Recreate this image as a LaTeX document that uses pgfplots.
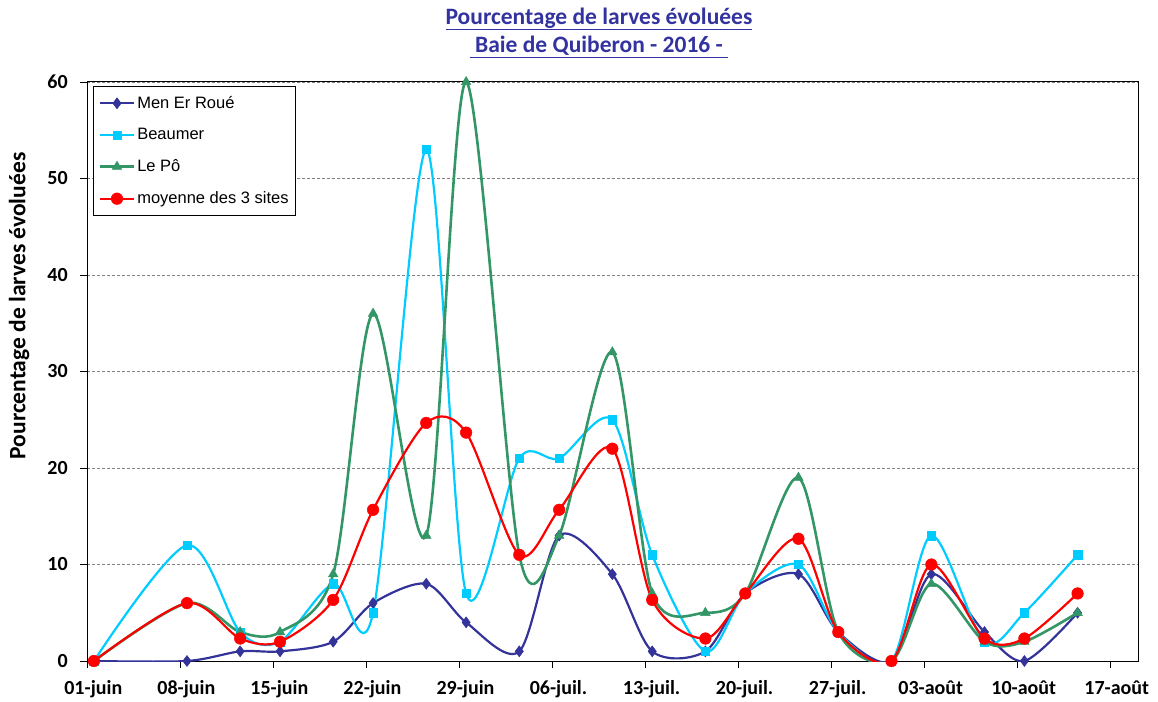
\documentclass[border=0pt]{standalone}
\usepackage{pgfplots}
\pgfplotsset{compat=1.18}
\usepackage{fontspec}
\setmainfont{Carlito}
\newfontfamily\legfont{Liberation Sans}
\definecolor{cMen}{RGB}{51,51,153}
\definecolor{cBea}{RGB}{0,204,255}
\definecolor{cPo}{RGB}{51,150,102}
\definecolor{cMoy}{RGB}{255,0,0}
\definecolor{cTitle}{RGB}{51,51,160}

\pgfplotstableread{
x   men  bea  po   moy
0   0    0    0    0
7   0    12   6    6
11  1    3    3    2.33
14  1    2    3    2
18  2    8    9    6.33
21  6    5    36   15.67
25  8    53   13   24.67
28  4    7    60   23.67
32  1    21   11   11
35  13   21   13   15.67
39  9    25   32   22
42  1    11   7    6.33
46  1    1    5    2.33
49  7    7    7    7
53  9    10   19   12.67
56  3    3    3    3
60  0    0    0    0
63  9    13   8    10
67  3    2    2    2.33
70  0    5    2    2.33
74  5    11   5    7
}\datatable

% underline set a few points below the baseline, as in the reference
\newcommand\ul[1]{{\setbox0\hbox{#1}\rlap{\rule[-5.5pt]{\wd0}{1.7pt}}\box0}}

\begin{document}
\begin{tikzpicture}
\begin{axis}[
  scale only axis,
  width=1050.7pt, height=579pt,
  at={(0pt,0pt)}, anchor=south west,
  xmin=-0.5, xmax=78.55, ymin=0, ymax=60,
  xtick={-0.5,6.5,13.5,20.5,27.5,34.5,41.5,48.5,55.5,62.5,69.5,76.5},
  xticklabels={01-juin,08-juin,15-juin,22-juin,29-juin,06-juil.,13-juil.,20-juil.,27-juil.,03-août,10-août,17-août},
  ytick={0,10,...,60},
  xtick pos=lower, ytick pos=left,
  tick align=outside,
  major tick length=7pt,
  tick style={black, line width=0.9pt},
  axis line style={black, line width=1pt},
  ymajorgrids,
  grid style={gray, line width=0.7pt, dash pattern=on 3pt off 2pt},
  /pgf/number format/assume math mode=true,
  ticklabel style={font=\bfseries\fontsize{20}{22}\selectfont, text=black},
  xticklabel style={xshift=6pt, yshift=-9pt},
  yticklabel style={xshift=-9pt},
  legend style={
    at={(0.0057,0.993)}, anchor=north west,
    draw=black, line width=0.8pt, fill=white,
    font=\legfont\fontsize{16.5}{19}\selectfont,
    row sep=14.5pt, inner xsep=5pt, inner ysep=8pt,
    cells={anchor=west},
  },
  legend cell align=left,
  legend image code/.code={
    \draw[#1] (0pt,0pt) -- (34pt,0pt);
    \draw[#1, line width=0pt] plot coordinates {(17pt,0pt)};
  },
]
\addplot[cMen, line width=2.2pt, smooth, tension=0.5, mark=diamond*, mark size=5.5pt, mark options={solid, line width=0.5pt}]
  table[x=x, y=men] {\datatable};
\addlegendentry{Men Er Roué}
\addplot[cBea, line width=2.2pt, smooth, tension=0.5, mark=square*, mark size=4.2pt, mark options={solid, line width=0.5pt}]
  table[x=x, y=bea] {\datatable};
\addlegendentry{Beaumer}
\addplot[cPo, line width=2.6pt, smooth, tension=0.5, mark=triangle*, mark size=5.5pt, mark options={solid, line width=0.5pt}]
  table[x=x, y=po] {\datatable};
\addlegendentry{Le Pô}
\addplot[cMoy, line width=2.2pt, smooth, tension=0.5, mark=*, mark size=5.8pt, mark options={solid, line width=0.5pt}]
  table[x=x, y=moy] {\datatable};
\addlegendentry{moyenne des 3 sites}
\end{axis}
% titles and y label (positions: image px (X,Y) -> (X-87.3, 661-Y))
\node[font=\bfseries\fontsize{23.5}{26}\selectfont, text=cTitle, anchor=base] at (511.7pt,636pt) {\ul{Pourcentage de larves évoluées}};
\node[font=\bfseries\fontsize{23.5}{26}\selectfont, text=cTitle, anchor=base] at (511.7pt,608pt) {\ul{\ Baie de Quiberon - 2016 -\ }};
\node[font=\bfseries\fontsize{23.5}{26}\selectfont, rotate=90, anchor=center] at (-68.3pt,355pt) {Pourcentage de larves évoluées};
\path[use as bounding box] (-87.3pt,-38pt) rectangle (1070.7pt,661pt);
\end{tikzpicture}
\end{document}
